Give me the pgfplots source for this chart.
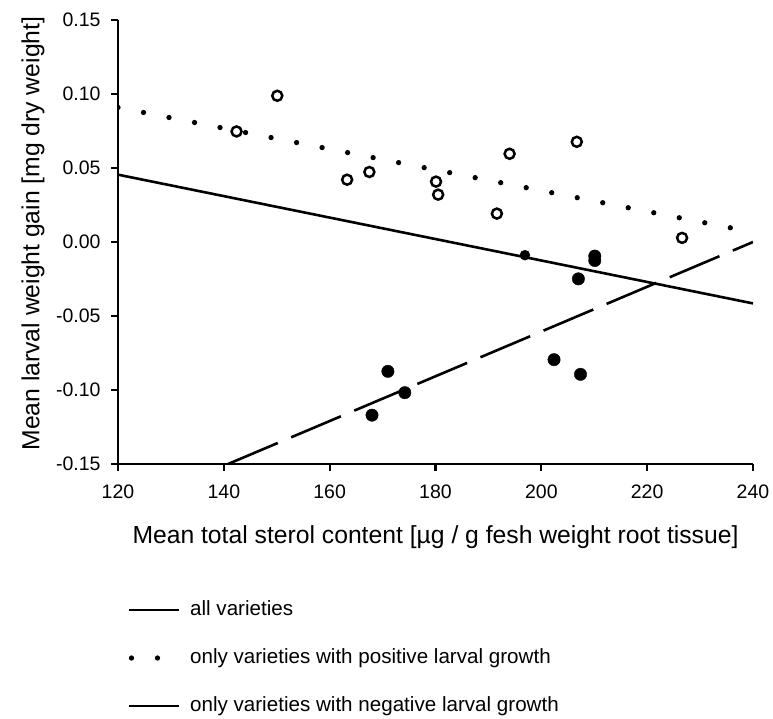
\documentclass[border=0pt]{standalone}
\usepackage{fontspec}
\setmainfont{Liberation Sans}
\usepackage{pgfplots}
\pgfplotsset{compat=1.18}
\begin{document}
\begin{tikzpicture}[x=1pt,y=1pt]
\path[use as bounding box] (-118,-254) rectangle (655,464);
\begin{axis}[
  at={(0,0)}, anchor=south west,
  scale only axis, width=635pt, height=444pt,
  xmin=120, xmax=240, ymin=-0.15, ymax=0.15,
  axis x line*=bottom, axis y line*=left,
  axis line style={line width=2.2pt, -},
  xtick={120,140,160,180,200,220,240},
  ytick={-0.15,-0.10,-0.05,0,0.05,0.10,0.15},
  tick align=outside, major tick length=7pt,
  every tick/.append style={line width=2.2pt, black},
  major tick style={line width=2.2pt, black},
  /pgf/number format/assume math mode=true,
  tick label style={font=\fontsize{19.5}{20}\selectfont},
  yticklabel style={xshift=-7pt, /pgf/number format/.cd, fixed, fixed zerofill, precision=2},
  xticklabel style={yshift=-10pt},
  xlabel={Mean total sterol content [µg / g fesh weight root tissue]},
  ylabel={Mean larval weight gain [mg dry weight]},
  label style={font=\fontsize{24.7}{26}\selectfont},
  xlabel style={at={(axis description cs:0.5,-0.1644)}, anchor=center},
  ylabel style={at={(axis description cs:-0.1339,0.519)}, anchor=center},
  legend style={at={(axis description cs:0.01575,-0.437)}, anchor=west, draw=none, fill=none,
    inner sep=0pt, row sep=28.5pt, font=\fontsize{20.6}{22}\selectfont,
    nodes={inner sep=0pt, text height=15pt, text depth=4.5pt},
    /tikz/every odd column/.append style={column sep=6pt}},
  legend cell align=left,
]
\addplot[only marks, mark=*, mark size=6.2pt, black, forget plot] coordinates {
  (168.0,-0.117) (171.0,-0.0874) (174.2,-0.1018) (202.4,-0.0795) (207.0,-0.0249)
  (207.4,-0.0894) (210.1,-0.0095) (210.1,-0.0125)
};
\addplot[only marks, mark=*, mark size=5pt, black, forget plot] coordinates {
  (196.9,-0.0089)
};
\addplot[only marks, mark=o, mark size=5pt, mark options={line width=2.5pt}, black, forget plot] coordinates {
  (142.4,0.0747) (150.1,0.0988) (163.3,0.0421) (167.5,0.0473) (180.1,0.0408)
  (180.5,0.0320) (191.6,0.0192) (194.0,0.0596) (206.7,0.0677) (226.6,0.0028)
};
\addplot[black, line width=2.6pt,
  legend image code/.code={\draw[line width=2.6pt] (0pt,0pt) -- (50pt,0pt);}]
  coordinates {(120,0.0455) (240,-0.0415)};
\addlegendentry{all varieties}
\addplot[black, line width=5.3pt, line cap=round, dash pattern=on 0pt off 26pt,
  legend image code/.code={\draw[line width=5.3pt, line cap=round, dash pattern=on 0pt off 26pt] (2pt,0pt) -- (52pt,0pt);}]
  coordinates {(120,0.0909) (240,0.0066)};
\addlegendentry{only varieties with positive larval growth}
\addplot[black, line width=2.6pt, dash pattern=on 54pt off 14.5pt,
  legend image code/.code={\draw[solid, line width=2.6pt] (0pt,0pt) -- (50pt,0pt);}]
  coordinates {(140.8,-0.15) (240,0.0)};
\addlegendentry{only varieties with negative larval growth}
\end{axis}
\end{tikzpicture}
\end{document}
